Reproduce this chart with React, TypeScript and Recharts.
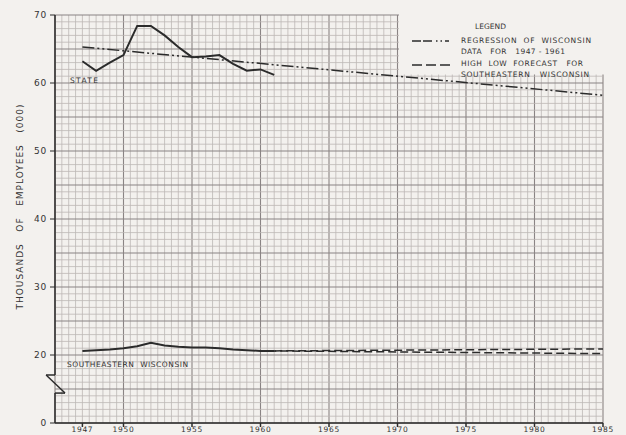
import React from 'react';
import { LineChart, Line, XAxis, YAxis, ReferenceLine } from 'recharts';

const stateYears = [1947, 1948, 1949, 1950, 1951, 1952, 1953, 1954, 1955, 1956, 1957, 1958, 1959, 1960, 1961];
const stateEmployees = [63.2, 61.8, 63.0, 64.1, 68.4, 68.4, 67.0, 65.3, 63.8, 63.9, 64.1, 62.8, 61.8, 62.0, 61.2];
const seYears = [1947, 1948, 1949, 1950, 1951, 1952, 1953, 1954, 1955, 1956, 1957, 1958, 1959, 1960, 1961];
const seEmployees = [20.6, 20.7, 20.8, 21.0, 21.3, 21.8, 21.4, 21.2, 21.1, 21.1, 21.0, 20.8, 20.7, 20.6, 20.6];
const regressionYears = [1947, 1985];
const regressionValues = [65.3, 58.2];
const forecastYears = [1961, 1985];
const forecastHigh = [20.6, 20.9];
const forecastLow = [20.6, 20.2];
const xTicks = [1947, 1950, 1955, 1960, 1965, 1970, 1975, 1980, 1985];
const yTicks = [10, 20, 30, 40, 50, 60, 70];
const yTickLabels: Record<number, string> = { 10: '0', 20: '20', 30: '30', 40: '40', 50: '50', 60: '60', 70: '70' };

const stateData = stateYears.map((year, i) => ({ year, v: stateEmployees[i] }));
const seData = seYears.map((year, i) => ({ year, v: seEmployees[i] }));
const regressionData = regressionYears.map((year, i) => ({ year, v: regressionValues[i] }));
const highData = forecastYears.map((year, i) => ({ year, v: forecastHigh[i] }));
const lowData = forecastYears.map((year, i) => ({ year, v: forecastLow[i] }));

const gridX: number[] = [];
for (let x = 1945; x <= 1985.001; x += 0.5) gridX.push(Math.round(x * 10) / 10);
const gridY: number[] = [];
for (let y = 10; y <= 70; y += 1) gridY.push(y);

const BG = '#f3f1ee';
const INK = '#2b2b2b';
const FONT = '"DejaVu Sans", sans-serif';

// axis break
const axisPath = [
  { x: 1945, y: 70 },
  { x: 1945, y: 17.06 },
  { x: 1944.35, y: 17.06 },
  { x: 1945.73, y: 14.4 },
  { x: 1945, y: 14.4 },
  { x: 1945, y: 10 },
];

export default function App() {
  return (
    <div style={{ position: 'absolute', left: 0, top: 0, width: 626, height: 435, background: BG }}>
      <LineChart width={626} height={435} margin={{ top: 15, right: 23, bottom: 0, left: 0 }}>
        <XAxis
          type="number"
          dataKey="year"
          domain={[1945, 1985]}
          ticks={xTicks}
          allowDataOverflow
          height={12}
          tickSize={4}
          tickMargin={0}
          stroke={INK}
          strokeWidth={1.5}
          tick={{ fill: '#333', fontSize: 7.5, fontFamily: FONT, letterSpacing: 0.7 }}
        />
        <YAxis
          type="number"
          domain={[10, 70]}
          ticks={yTicks}
          allowDataOverflow
          width={55}
          tickSize={5}
          tickMargin={3}
          axisLine={false}
          stroke={INK}
          tickFormatter={(v: number) => yTickLabels[v] ?? String(v)}
          tick={{ fill: '#333', fontSize: 9, fontFamily: FONT, letterSpacing: 0.8 }}
        />
        {gridX.map((x) => (
          <ReferenceLine
            key={'gx' + x}
            x={x}
            stroke={x % 5 === 0 ? '#8a8484' : '#bdb7b5'}
            strokeWidth={x % 5 === 0 ? 1.1 : 0.8}
          />
        ))}
        {gridY.map((y) => (
          <ReferenceLine
            key={'gy' + y}
            y={y}
            stroke={y % 5 === 0 ? '#8a8484' : '#bdb7b5'}
            strokeWidth={y % 5 === 0 ? 1.1 : 0.8}
          />
        ))}
        {axisPath.slice(0, -1).map((p, i) => (
          <ReferenceLine
            key={'ax' + i}
            segment={[p, axisPath[i + 1]]}
            stroke={INK}
            strokeWidth={1.5}
            ifOverflow="visible"
          />
        ))}
        <Line data={regressionData} dataKey="v" stroke={INK} strokeWidth={1.5} strokeDasharray="12 3 2 3 2 3" dot={false} isAnimationActive={false} />
        <Line data={highData} dataKey="v" stroke={INK} strokeWidth={1.5} strokeDasharray="8 4" dot={false} isAnimationActive={false} />
        <Line data={lowData} dataKey="v" stroke={INK} strokeWidth={1.5} strokeDasharray="8 4" strokeDashoffset={6} dot={false} isAnimationActive={false} />
        <Line data={stateData} dataKey="v" stroke={INK} strokeWidth={2} dot={false} isAnimationActive={false} />
        <Line data={seData} dataKey="v" stroke={INK} strokeWidth={2} dot={false} isAnimationActive={false} />
      </LineChart>
      <svg width={626} height={435} style={{ position: 'absolute', left: 0, top: 0, pointerEvents: 'none' }}>
        <rect x={399} y={0} width={227} height={74.5} fill={BG} />
        <g fontFamily={FONT} fill="#333">
          <text
            transform="translate(23,207) rotate(-90)"
            textAnchor="middle"
            fontSize={9}
            textLength={205}
            lengthAdjust="spacing"
            style={{ whiteSpace: 'pre' }}
          >
            {'THOUSANDS   OF   EMPLOYEES   (000)'}
          </text>
          <text x={70} y={83} fontSize={7.5} textLength={28} lengthAdjust="spacing">STATE</text>
          <text x={67} y={367} fontSize={7.5} textLength={121} lengthAdjust="spacing" style={{ whiteSpace: 'pre' }}>
            {'SOUTHEASTERN  WISCONSIN'}
          </text>
          <text x={475} y={28.5} fontSize={7.5} textLength={31} lengthAdjust="spacing">LEGEND</text>
          <text x={461} y={43} fontSize={7.5} textLength={130} lengthAdjust="spacing" style={{ whiteSpace: 'pre' }}>
            {'REGRESSION  OF  WISCONSIN'}
          </text>
          <text x={461} y={53.5} fontSize={7.5} textLength={104} lengthAdjust="spacing" style={{ whiteSpace: 'pre' }}>
            {'DATA   FOR   1947 - 1961'}
          </text>
          <text x={461} y={66} fontSize={7.5} textLength={122} lengthAdjust="spacing" style={{ whiteSpace: 'pre' }}>
            {'HIGH  LOW  FORECAST   FOR'}
          </text>
          <text x={461} y={77} fontSize={7.5} textLength={128} lengthAdjust="spacing" style={{ whiteSpace: 'pre' }}>
            {'SOUTHEASTERN   WISCONSIN'}
          </text>
        </g>
        <line x1={412} y1={41} x2={449} y2={41} stroke={INK} strokeWidth={1.5} strokeDasharray="9 2 9 4 1.5 3 1.5 3" />
        <line x1={412} y1={65} x2={450} y2={65} stroke={INK} strokeWidth={1.5} strokeDasharray="10 4" />
      </svg>
    </div>
  );
}
